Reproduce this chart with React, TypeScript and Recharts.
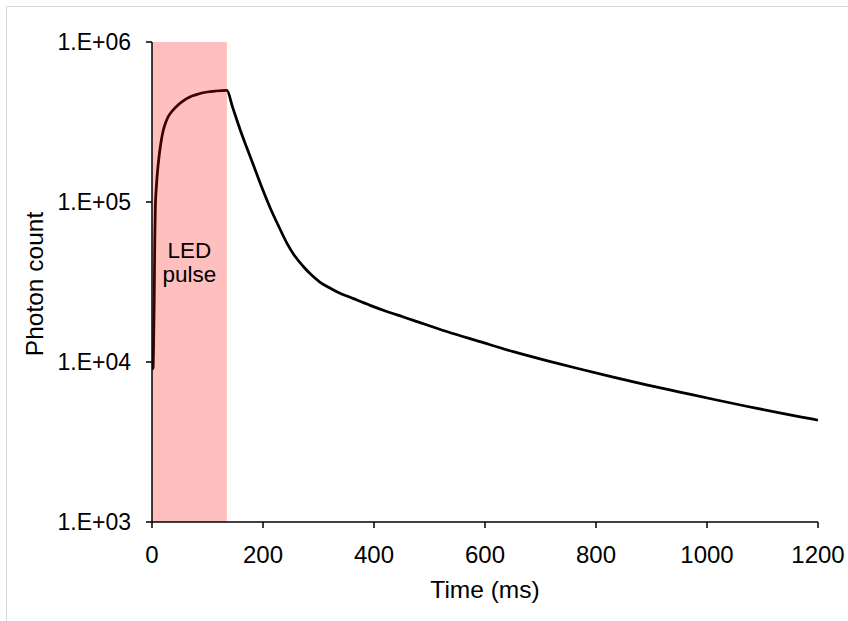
import React from 'react';
import { LineChart, Line, XAxis, YAxis, ReferenceArea } from 'recharts';

const timeMs = [
  0, 2, 3, 4, 5, 6, 8, 10, 12, 16, 20, 25, 30, 35, 45, 55, 68, 80, 99, 115, 135,
  145, 159, 170, 183, 198, 213, 228, 243, 258, 273, 288, 303, 318, 333, 363, 393,
  423, 453, 471, 531, 591, 651, 711, 771, 831, 891, 951, 1011, 1071, 1131, 1191, 1200,
];
const photonCount = [
  9000, 9200, 13700, 24400, 57900, 91700, 126000, 156000, 183000, 234000, 278000,
  316000, 345000, 365000, 398000, 425000, 453000, 469000, 487000, 494000, 498000,
  393000, 282000, 222000, 169000, 123000, 91700, 70800, 55400, 45600, 39400, 34800,
  31500, 29300, 27500, 24900, 22600, 20700, 19100, 18200, 15500, 13400, 11600, 10200,
  9040, 8050, 7200, 6490, 5850, 5290, 4810, 4390, 4330,
];
const xTicks = [0, 200, 400, 600, 800, 1000, 1200];
const yTicks = [1000, 10000, 100000, 1000000];
const pulseStart = 0;
const pulseEnd = 135;
const pulseLines = ['LED', 'pulse'];

const data = timeMs.map((t, i) => ({ t, count: photonCount[i] }));

const FONT = '"Liberation Sans", Arial, sans-serif';

const fmtY = (v: number) => {
  const e = Math.round(Math.log10(v));
  return `1.E+${String(e).padStart(2, '0')}`;
};

export default function App() {
  return (
    <div style={{ position: 'absolute', left: 0, top: 0, width: 848, height: 621, overflow: 'hidden', background: '#fff' }}>
      <div
        style={{
          position: 'absolute',
          left: 6,
          top: 6,
          width: 900,
          height: 700,
          border: '1.5px solid #d9d9d9',
          boxSizing: 'border-box',
        }}
      />
      <div style={{ position: 'absolute', left: 0, top: 0 }}>
        <LineChart width={848} height={621} data={data} margin={{ top: 42, right: 30, bottom: 0, left: 0 }}>
          <Line
            type="monotoneX"
            dataKey="count"
            stroke="#000"
            strokeWidth={2.75}
            dot={false}
            isAnimationActive={false}
          />
          <ReferenceArea
            x1={pulseStart}
            x2={pulseEnd}
            fill="#ff0000"
            fillOpacity={0.25}
            stroke="none"
            ifOverflow="visible"
            zIndex={450}
            label={{
              content: (p: any) => {
                const vb = p.viewBox || {};
                const cx = vb.x + vb.width / 2;
                const cy = vb.y + vb.height / 2;
                return (
                  <g>
                    <text x={cx} y={cy - 24} textAnchor="middle" fontFamily={FONT} fontSize={22.5} fill="#000">
                      {pulseLines[0]}
                    </text>
                    <text x={cx} y={cy} textAnchor="middle" fontFamily={FONT} fontSize={22.5} fill="#000">
                      {pulseLines[1]}
                    </text>
                  </g>
                );
              },
            }}
          />
          <XAxis
            dataKey="t"
            type="number"
            domain={[0, 1200]}
            ticks={xTicks}
            allowDataOverflow
            height={99}
            axisLine={{ stroke: '#000', strokeWidth: 1.5 }}
            tickLine={{ stroke: '#000', strokeWidth: 1.5 }}
            tickSize={6}
            tickMargin={18}
            tick={{ fontSize: 24, fill: '#000', fontFamily: FONT }}
            label={{
              value: 'Time (ms)',
              position: 'insideBottom',
              offset: 23,
              style: { fontSize: 24.5, fill: '#000', fontFamily: FONT },
            }}
          />
          <YAxis
            dataKey="count"
            type="number"
            scale="log"
            domain={[1000, 1000000]}
            ticks={yTicks}
            allowDataOverflow
            width={152}
            axisLine={{ stroke: '#000', strokeWidth: 1.5 }}
            tickLine={{ stroke: '#000', strokeWidth: 1.5 }}
            tickSize={6}
            tickMargin={15}
            tickFormatter={fmtY}
            tick={{ fontSize: 23, fill: '#000', fontFamily: FONT }}
            label={{
              content: (p: any) => {
                const vb = p.viewBox || {};
                const cx = vb.x + 34;
                const cy = vb.y + vb.height / 2 + 2;
                return (
                  <text
                    x={cx}
                    y={cy}
                    dy="0.355em"
                    transform={`rotate(-90, ${cx}, ${cy})`}
                    textAnchor="middle"
                    fontFamily={FONT}
                    fontSize={24.5}
                    fill="#000"
                  >
                    Photon count
                  </text>
                );
              },
            }}
          />
        </LineChart>
      </div>
    </div>
  );
}
